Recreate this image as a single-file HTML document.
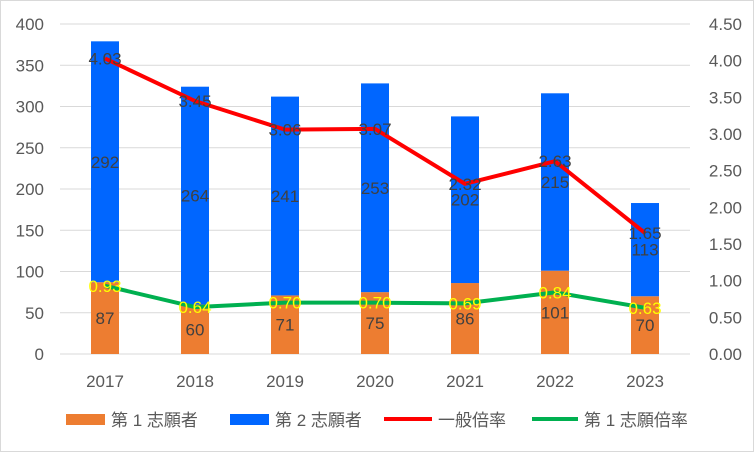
<!DOCTYPE html>
<html><head><meta charset="utf-8"><style>
body{margin:0;background:#fff}
svg text{font-family:"Liberation Sans","Noto Sans CJK JP",sans-serif}
</style></head><body>
<svg id="c" width="754" height="452" xmlns="http://www.w3.org/2000/svg">
<rect x="0.5" y="0.5" width="753" height="451" fill="#fff" stroke="#d9d9d9"/>
<g id="grid"></g><g id="bars"></g><g id="lines"></g><g id="labels"></g><g id="axes"></g>
<g font-size="17" fill="#595959">
<rect x="66" y="414" width="39" height="11" fill="#ed7d31"/>
<text x="111" y="426" fill="#595959">第 1 志願者</text>
<rect x="230" y="414" width="39" height="11" fill="#0066ff"/>
<text x="275" y="426" fill="#595959">第 2 志願者</text>
<line x1="384" y1="419" x2="432" y2="419" stroke="#ff0000" stroke-width="4"/>
<text x="438" y="426" fill="#595959">一般倍率</text>
<line x1="532" y1="419" x2="578" y2="419" stroke="#00b050" stroke-width="4"/>
<text x="584" y="426" fill="#595959">第 1 志願倍率</text>
</g>
</svg>
<script>
const years=["2017","2018","2019","2020","2021","2022","2023"];
const first=[87,60,71,75,86,101,70];
const second=[292,264,241,253,202,215,113];
const general=[4.03,3.45,3.06,3.07,2.32,2.63,1.65];
const firstRatio=[0.93,0.64,0.70,0.70,0.69,0.84,0.63];
const leftTicks=[0,50,100,150,200,250,300,350,400];
const rightTicks=[0,0.5,1,1.5,2,2.5,3,3.5,4,4.5];
const NS="http://www.w3.org/2000/svg";
const L=60,R=690,T=24,B=354;
const yL=v=>B-(v/400)*(B-T), yR=v=>B-(v/4.5)*(B-T);
const xC=i=>L+(R-L)/years.length*(i+0.5);
function mk(p,tag,at,txt){const e=document.createElementNS(NS,tag);for(const k in at)e.setAttribute(k,at[k]);if(txt!=null)e.textContent=txt;document.getElementById(p).appendChild(e);return e;}
leftTicks.forEach(v=>{
 const g=mk('grid','line',{x1:L,x2:R,y1:yL(v),y2:yL(v),stroke:'#d9d9d9','stroke-width':1});
 
 
 const t=mk('axes','text',{x:44,y:yL(v)+6,'text-anchor':'end','font-size':17,fill:'#595959'},v);
 
 
});
rightTicks.forEach(v=>{
 const t=mk('axes','text',{x:742,y:yR(v)+6,'text-anchor':'end','font-size':17,fill:'#595959'},v.toFixed(2));
 
 
});
const bw=28;
years.forEach((y,i)=>{
 const x=xC(i);
 const t=mk('axes','text',{x:x,y:387,'text-anchor':'middle','font-size':17,fill:'#595959'},y);
 
 
 const b1=mk('bars','rect',{x:x-bw/2,y:yL(first[i]),width:bw,height:B-yL(first[i]),fill:'#ed7d31'});
 
 
 const top=first[i]+second[i];
 const b2=mk('bars','rect',{x:x-bw/2,y:yL(top),width:bw,height:yL(first[i])-yL(top),fill:'#0066ff'});
 
 
 const l1=mk('labels','text',{x:x,y:(yL(first[i])+B)/2+6,'text-anchor':'middle','font-size':17,fill:'#404040'},first[i]);
 
 
 const l2=mk('labels','text',{x:x,y:(yL(first[i])+yL(top))/2+6,'text-anchor':'middle','font-size':17,fill:'#404040'},second[i]);
 
 
});
const gp=mk('lines','polyline',{points:general.map((v,i)=>xC(i)+','+yR(v)).join(' '),fill:'none',stroke:'#ff0000','stroke-width':4,'stroke-linejoin':'round'});


const fp=mk('lines','polyline',{points:firstRatio.map((v,i)=>xC(i)+','+yR(v)).join(' '),fill:'none',stroke:'#00b050','stroke-width':4,'stroke-linejoin':'round'});


years.forEach((y,i)=>{
 const a=mk('labels','text',{x:xC(i),y:yR(general[i])+6,'text-anchor':'middle','font-size':17,fill:'#404040'},general[i].toFixed(2));
 
 
 const b=mk('labels','text',{x:xC(i),y:yR(firstRatio[i])+6,'text-anchor':'middle','font-size':17,fill:'#ffff00'},firstRatio[i].toFixed(2));
 
 
});
</script>
</body></html>
